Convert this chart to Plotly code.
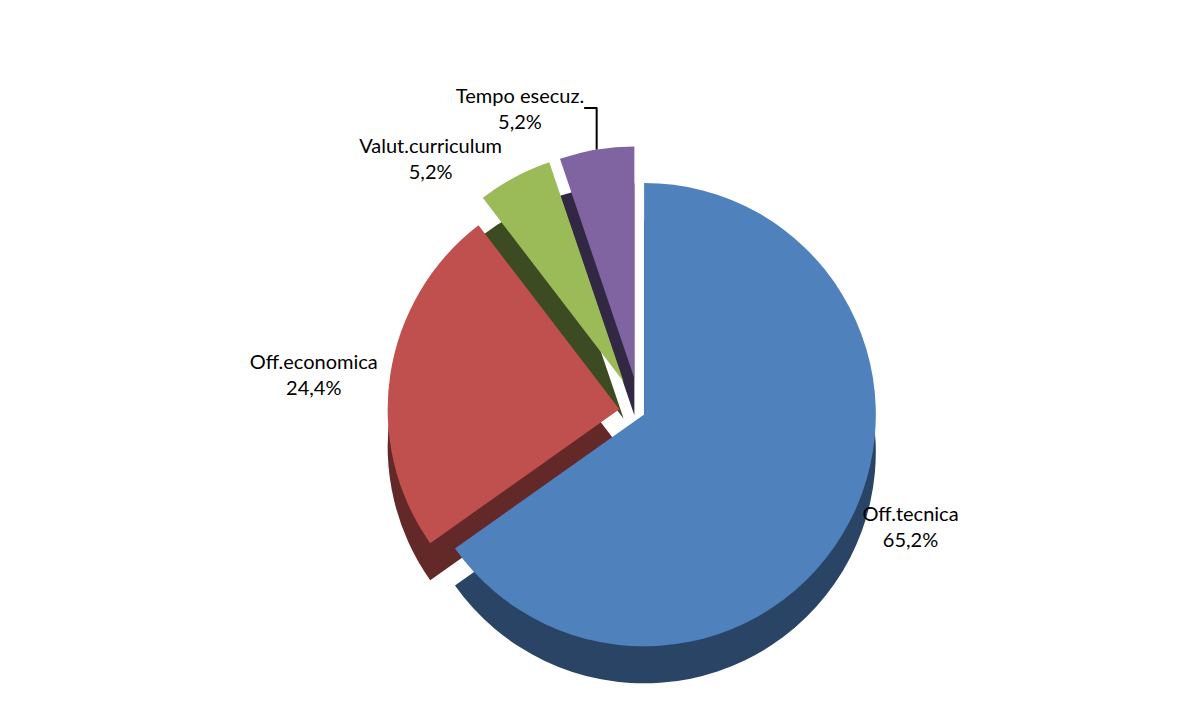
import plotly.graph_objects as go

labels = ["Off.tecnica", "Off.economica", "Valut.curriculum", "Tempo esecuz."]
values = [65.2, 24.4, 5.2, 5.2]
top_colors = ["#4F81BD", "#C0504D", "#9BBB59", "#8064A2"]
side_colors = ["#2A4466", "#632828", "#3D4B22", "#332843"]
pulls = [0.02, 0.09, 0.15, 0.15]

fig = go.Figure()
# darker "side" layer to give a pseudo-3D extrusion
fig.add_trace(go.Pie(
    labels=labels, values=values, sort=False, direction="clockwise", rotation=0,
    pull=pulls, marker=dict(colors=side_colors, line=dict(width=0)),
    textinfo="none", hoverinfo="skip", showlegend=False,
    domain=dict(x=[0.0, 1.0], y=[0.0, 0.935]),
))
fig.add_trace(go.Pie(
    labels=labels, values=values, sort=False, direction="clockwise", rotation=0,
    pull=pulls, marker=dict(colors=top_colors, line=dict(width=0)),
    texttemplate="%{label}<br>%{percent:.1%}", textposition="outside",
    textfont=dict(family="Lato, Liberation Sans, sans-serif", size=20, color="#000000"),
    showlegend=False,
    domain=dict(x=[0.0, 1.0], y=[0.065, 1.0]),
))
fig.update_layout(
    width=1192, height=713,
    margin=dict(l=5, r=5, t=5, b=5),
    paper_bgcolor="white", plot_bgcolor="white",
    separators=",.",
    font=dict(family="Lato, Liberation Sans, sans-serif", size=20, color="#000000"),
)
fig.write_html("out.html")
